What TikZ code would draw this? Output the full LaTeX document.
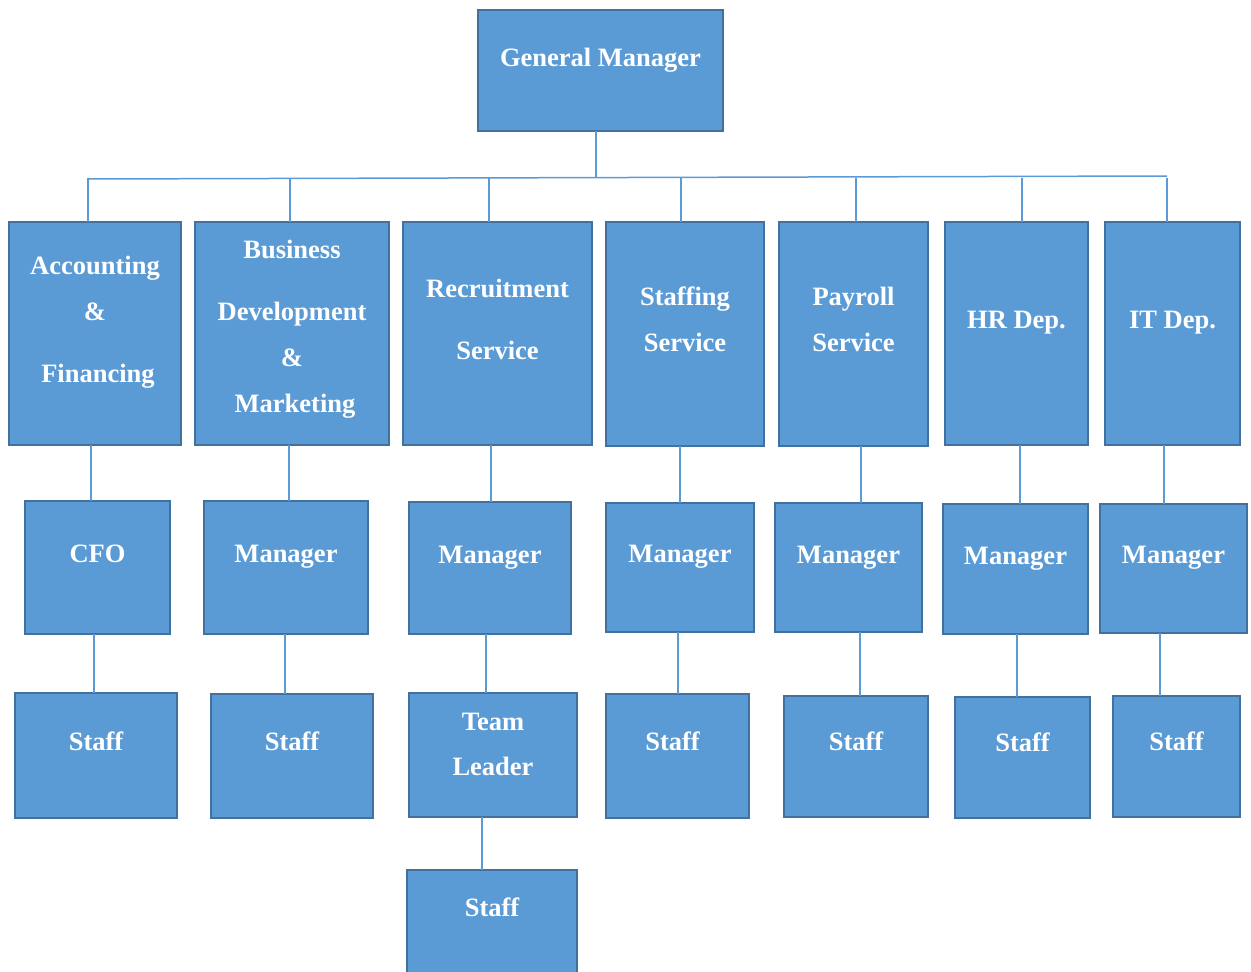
\documentclass[tikz,border=0pt]{standalone}
\usepackage{fontspec}
\setmainfont{Liberation Serif}
\definecolor{boxfill}{HTML}{5B9BD5}
\definecolor{boxline}{HTML}{41719C}
\definecolor{conn}{HTML}{5B9BD5}
\tikzset{
  box/.style={draw=boxline, fill=boxfill, line width=2.6pt, rectangle, inner sep=0pt, outer sep=0pt},
  txt/.style={text=white, font=\fontsize{26.5}{32}\selectfont\bfseries, inner sep=0pt, anchor=base},
  conline/.style={draw=conn, line width=1.5pt}
}
\newcommand\mybox[5]{\node[box,minimum width={#4-#2},minimum height={#5-#3}] (#1) at ({(#2+#4)/2},{(#3+#5)/2}) {};}
\newcommand\mytxt[4]{\node[txt] (#1) at ($(#2.north)+(0,#3+1)$) {#4};}
\usetikzlibrary{calc}
\begin{document}
\begin{tikzpicture}[x=1pt,y=-1pt]
\useasboundingbox (0,0) rectangle (1251,972);
% boxes
\mybox{gm}{478}{10}{723}{131}
\mybox{acc}{9}{222}{181}{445}
\mybox{bdm}{195}{222}{389}{445}
\mybox{rec}{403}{222}{592}{445}
\mybox{stf}{606}{222}{764}{446}
\mybox{pay}{779}{222}{928}{446}
\mybox{hr}{945}{222}{1088}{445}
\mybox{it}{1105}{222}{1240}{445}
\mybox{cfo}{25}{501}{170}{634}
\mybox{mbdm}{204}{501}{368}{634}
\mybox{mrec}{409}{502}{571}{634}
\mybox{mstf}{606}{503}{754}{632}
\mybox{mpay}{775}{503}{922}{632}
\mybox{mhr}{943}{504}{1088}{634}
\mybox{mit}{1100}{504}{1247}{633}
\mybox{sa}{15}{693}{177}{818}
\mybox{sb}{211}{694}{373}{818}
\mybox{tl}{409}{693}{577}{817}
\mybox{sd}{606}{694}{749}{818}
\mybox{se}{784}{696}{928}{817}
\mybox{sf}{955}{697}{1090}{818}
\mybox{sg}{1113}{696}{1240}{817}
\mybox{sh}{407}{870}{577}{990}
% texts (offset = baseline - box top)
\mytxt{gmt}{gm}{55}{General Manager}
\mytxt{acc1}{acc}{51}{Accounting}
\mytxt{acc2}{acc}{97}{\&}
\mytxt{acc3}{acc}{159}{\hspace{6pt}Financing}
\mytxt{bdm1}{bdm}{35}{Business}
\mytxt{bdm2}{bdm}{97}{Development}
\mytxt{bdm3}{bdm}{143}{\&}
\mytxt{bdm4}{bdm}{189}{\hspace{6pt}Marketing}
\mytxt{rec1}{rec}{74}{Recruitment}
\mytxt{rec2}{rec}{136}{Service}
\mytxt{stf1}{stf}{82}{Staffing}
\mytxt{stf2}{stf}{128}{Service}
\mytxt{pay1}{pay}{82}{Payroll}
\mytxt{pay2}{pay}{128}{Service}
\mytxt{hrt}{hr}{105}{HR Dep.}
\mytxt{itt}{it}{105}{IT Dep.}
\mytxt{cfot}{cfo}{60}{CFO}
\mytxt{mbdmt}{mbdm}{60}{Manager}
\mytxt{mrect}{mrec}{60}{Manager}
\mytxt{mstft}{mstf}{58}{Manager}
\mytxt{mpayt}{mpay}{59}{Manager}
\mytxt{mhrt}{mhr}{59}{Manager}
\mytxt{mitt}{mit}{58}{Manager}
\mytxt{sat}{sa}{56}{Staff}
\mytxt{sbt}{sb}{55}{Staff}
\mytxt{tl1}{tl}{36}{Team}
\mytxt{tl2}{tl}{81}{Leader}
\mytxt{sdt}{sd}{55}{Staff\kern10pt\relax}
\mytxt{set}{se}{53}{Staff}
\mytxt{sft}{sf}{53}{Staff}
\mytxt{sgt}{sg}{53}{Staff}
\mytxt{sht}{sh}{45}{Staff}
% top bus
\coordinate (busL) at (88,179);
\coordinate (busR) at (1167,176);
\coordinate (busM) at (596,177.5);
\draw[conline] (gm.south -| busM) -- (busM);
\draw[conline] (busL) -- (busR);
\foreach \n/\x in {acc/88,bdm/290,rec/489,stf/681,pay/856,hr/1022,it/1167}{
  \draw[conline] (\x,178) -- (\n.north -| \x,0);
}
% level 1 -> 2
\foreach \a/\b/\x in {acc/cfo/91,bdm/mbdm/289,rec/mrec/491,stf/mstf/680,pay/mpay/861,hr/mhr/1020,it/mit/1164}{
  \draw[conline] (\a.south -| \x,0) -- (\b.north -| \x,0);
}
% level 2 -> 3
\foreach \a/\b/\x in {cfo/sa/94,mbdm/sb/285,mrec/tl/486,mstf/sd/678,mpay/se/860,mhr/sf/1017,mit/sg/1160}{
  \draw[conline] (\a.south -| \x,0) -- (\b.north -| \x,0);
}
\draw[conline] (tl.south -| 482,0) -- (sh.north -| 482,0);
\end{tikzpicture}
\end{document}
